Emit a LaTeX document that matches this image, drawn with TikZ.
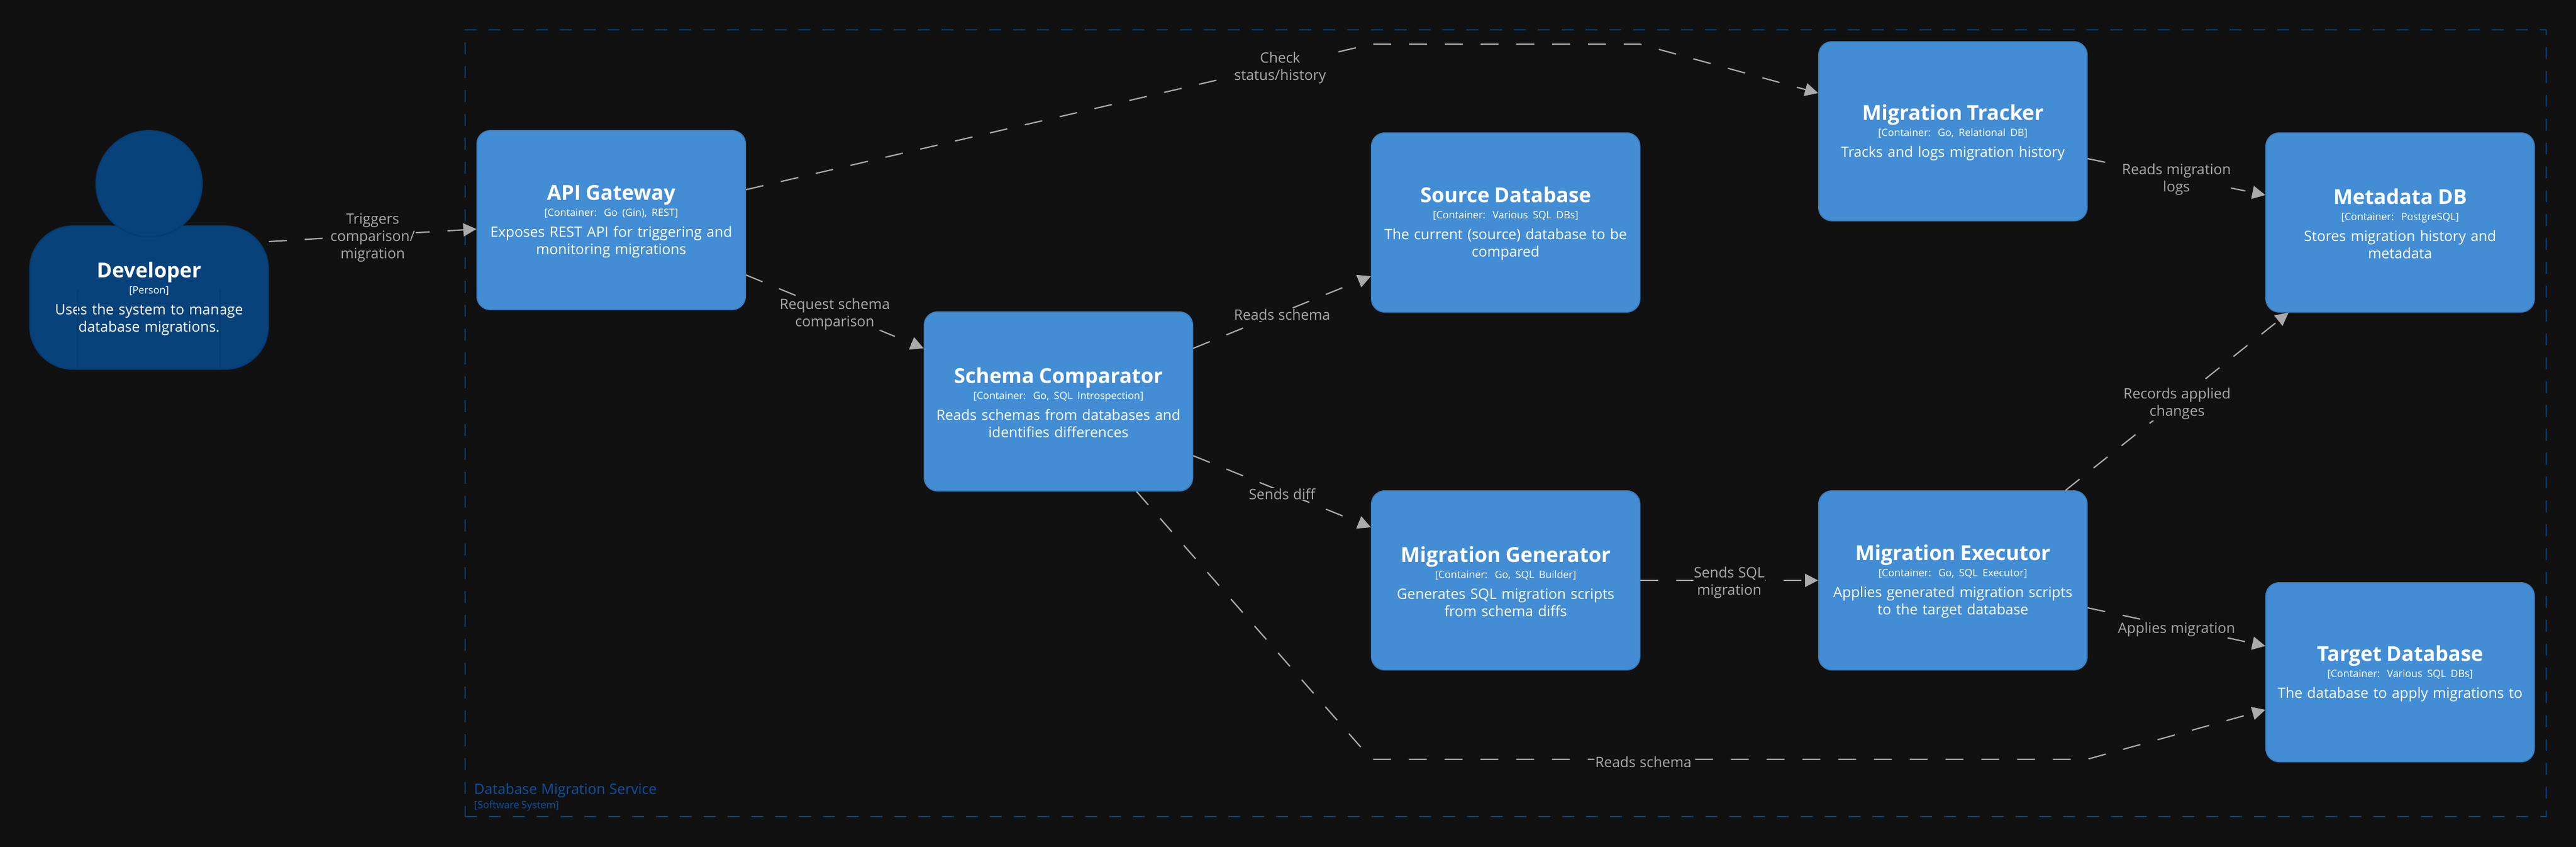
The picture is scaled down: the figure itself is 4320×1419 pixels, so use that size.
\documentclass[tikz,border=0pt]{standalone}
\usepackage{fontspec}
\setmainfont{Open Sans}[WordSpace=1.1]
\newfontfamily\metafont{Open Sans}[WordSpace=0.8]
\usetikzlibrary{arrows.meta}
\definecolor{canvas}{HTML}{111111}
\definecolor{contfill}{HTML}{438DD5}
\definecolor{contline}{HTML}{3C7FC0}
\definecolor{personfill}{HTML}{08427B}
\definecolor{personline}{HTML}{073B6F}
\definecolor{sysline}{HTML}{08427B}
\definecolor{systext}{HTML}{0D52A0}
\definecolor{relcolor}{HTML}{AAAAAA}
\newcommand{\cardtext}[3]{\raisebox{-2pt}{\fontsize{34.5}{38}\selectfont\bfseries #1}\\{\metafont\fontsize{17}{29}\selectfont #2}\\[6pt]#3\par\vspace{-4pt}}
\tikzstyle{container} = [rectangle, rounded corners=22pt, minimum width=450pt, minimum height=300pt, inner sep=0pt, text width=430pt, align=center, draw=contline, line width=2pt, fill=contfill, text=white, font=\fontsize{24}{29}\selectfont]
\tikzstyle{person} = [rectangle, rounded corners=72pt, minimum width=400pt, minimum height=240pt, inner sep=0pt, text width=380pt, align=center, draw=personline, line width=2pt, fill=personfill, text=white, font=\fontsize{24}{29}\selectfont]
\tikzstyle{head} = [circle, minimum size=178pt, inner sep=0pt, draw=personline, line width=2pt, fill=personfill]
\tikzstyle{system} = [rectangle, minimum width=3490pt, minimum height=1319pt, inner sep=0pt, draw=sysline, line width=2pt, dash pattern=on 20pt off 20pt]
\tikzstyle{arrow} = [draw=relcolor, line width=2.2pt, dash pattern=on 30pt off 30pt, -{Triangle[length=22pt,width=22pt]}]
\tikzstyle{rel} = [fill=canvas, inner sep=1pt, yshift=-4pt, align=center, text=relcolor, font=\fontsize{24}{29}\selectfont]

\begin{document}
\begin{tikzpicture}[x=1pt, y=1pt, node distance=750pt]
\useasboundingbox (0,0) rectangle (4320,-1419);
\fill [canvas] (-5,5) rectangle (4325,-1425);

\node (boundary) [system] at (2525,-709.5) {};
\node (systitle) [anchor=base west, inner sep=0pt, text=systext, font=\fontsize{24}{29}\selectfont] at (795,-1331) {Database Migration Service};
\node (sysmeta) [anchor=base west, inner sep=0pt, text=systext, font=\metafont\fontsize{17}{20}\selectfont] at (795,-1355) {[Software System]};

\node (developer) [person] at (250,-499) {\cardtext{Developer}{[Person]}{Uses the system to manage\\database migrations.}};
\coordinate (armla) at (130,-485);
\coordinate (armlb) at (130,-618);
\coordinate (armra) at (369,-485);
\coordinate (armrb) at (369,-618);
\draw [personline, line width=1.5pt] (armla) -- (armlb);
\draw [personline, line width=1.5pt] (armra) -- (armrb);
\node (devhead) [head] at (250,-308) {};

\node (api) [container] at (1025,-369) {\cardtext{API Gateway}{[Container: Go (Gin), REST]}{Exposes REST API for triggering and\\monitoring migrations}};
\node (schema) [container, right of=api, yshift=-304pt] {\cardtext{Schema Comparator}{[Container: Go, SQL Introspection]}{Reads schemas from databases and\\identifies differences}};
\node (source) [container, right of=schema, yshift=300pt] {\cardtext{Source Database}{[Container: Various SQL DBs]}{The current (source) database to be\\compared}};
\node (generator) [container, right of=schema, yshift=-300pt] {\cardtext{Migration Generator}{[Container: Go, SQL Builder]}{Generates SQL migration scripts\\from schema diffs}};
\node (tracker) [container, right of=source, yshift=153pt] {\cardtext{Migration Tracker}{[Container: Go, Relational DB]}{Tracks and logs migration history}};
\node (executor) [container, right of=generator] {\cardtext{Migration Executor}{[Container: Go, SQL Executor]}{Applies generated migration scripts\\to the target database}};
\node (metadata) [container, right of=tracker, yshift=-153pt] {\cardtext{Metadata DB}{[Container: PostgreSQL]}{Stores migration history and\\metadata}};
\node (target) [container, right of=executor, yshift=-154pt] {\cardtext{Target Database}{[Container: Various SQL DBs]}{The database to apply migrations to}};

\coordinate (checka) at (2300,-74);
\coordinate (checkb) at (2750,-74);
\coordinate (readsa) at (2300,-1273);
\coordinate (readsb) at (3500,-1273);

\draw [arrow] ([yshift=94pt]developer.east) -- node[rel] {Triggers\\comparison/\\migration} ([yshift=-15pt]api.west);
\draw [arrow] ([yshift=51pt]api.east) -- node[rel, pos=.854] {Check\\status/history} (checka) -- (checkb) -- ([yshift=64pt]tracker.west);
\draw [arrow] ([yshift=-92pt]api.east) -- node[rel] {Request schema\\comparison} ([yshift=89pt]schema.west);
\draw [arrow] ([yshift=89pt]schema.east) -- node[rel] {Reads schema} ([yshift=-90pt]source.west);
\draw [arrow] ([yshift=-91pt]schema.east) -- node[rel] {Sends diff} ([yshift=89pt]generator.west);
\draw [arrow] ([xshift=131pt]schema.south) -- (readsa) -- node[rel, pos=.38] {Reads schema} (readsb) -- ([yshift=-63pt]target.west);
\draw [arrow] (generator.east) -- node[rel] {Sends SQL\\migration} (executor.west);
\draw [arrow] ([yshift=-46pt]tracker.east) -- node[rel] {Reads migration\\logs} ([yshift=46pt]metadata.west);
\draw [arrow] ([xshift=189pt]executor.north) -- node[rel] {Records applied\\changes} ([xshift=-187pt]metadata.south);
\draw [arrow] ([yshift=-46pt]executor.east) -- node[rel] {Applies migration} ([yshift=44pt]target.west);

\end{tikzpicture}
\end{document}
